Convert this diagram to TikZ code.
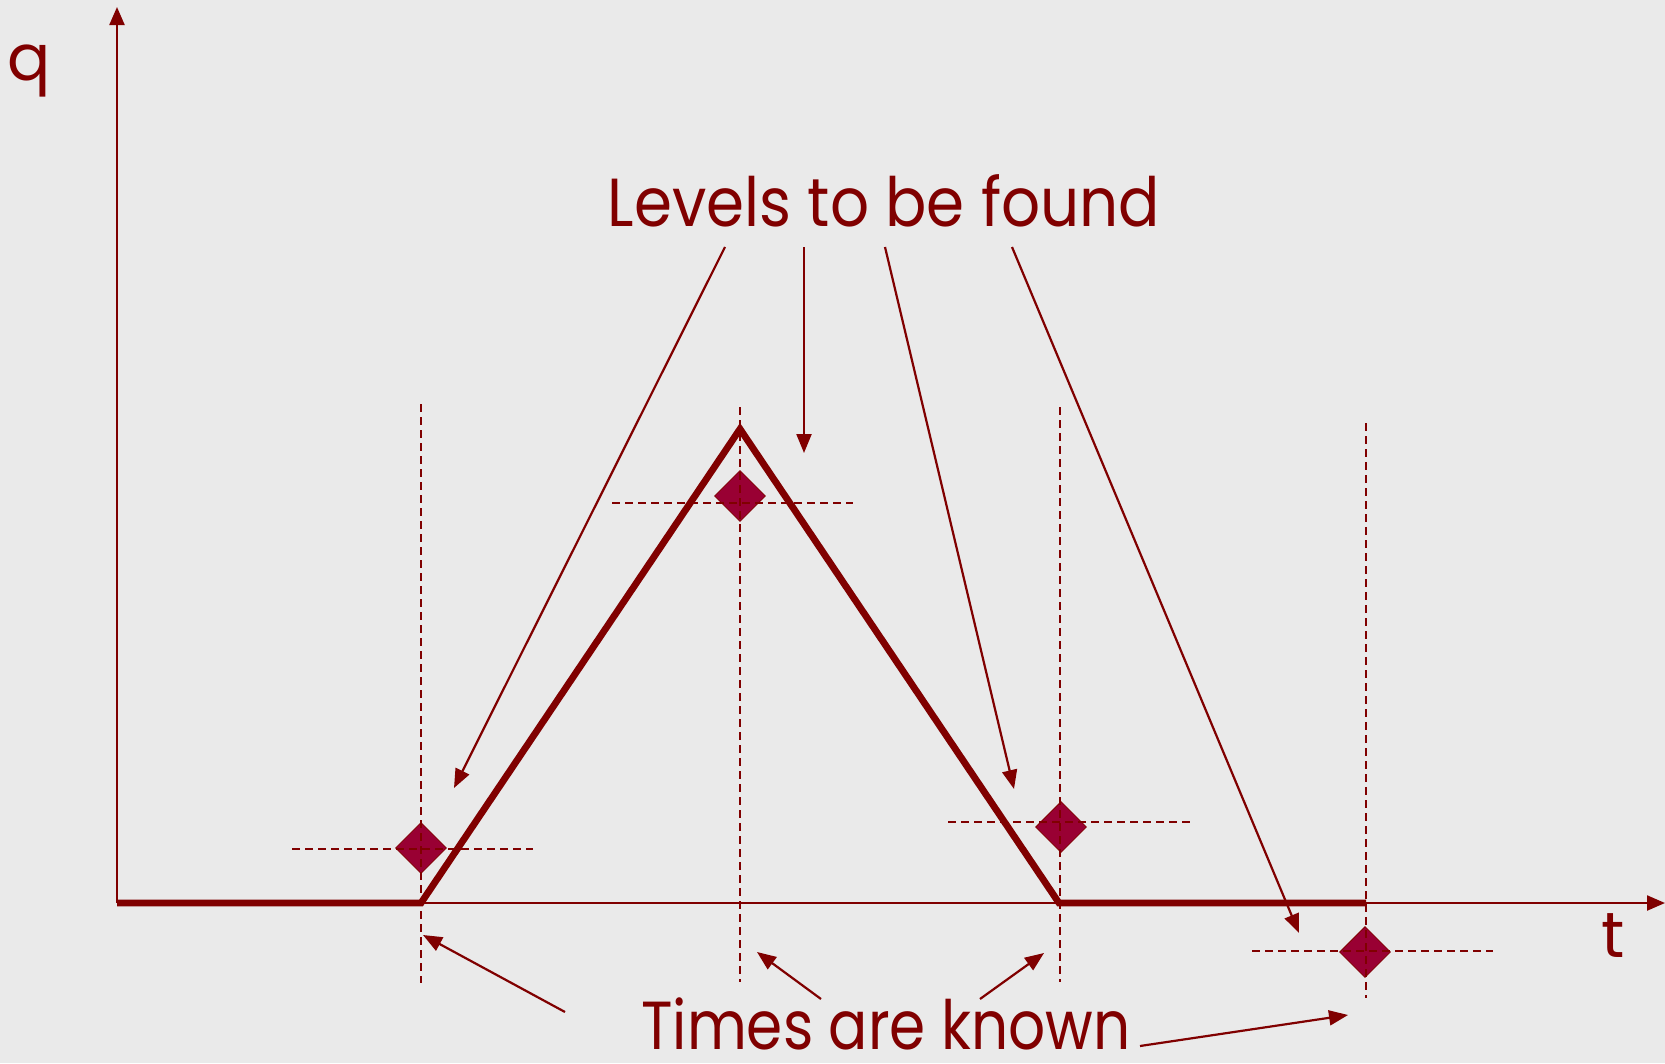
\documentclass[tikz,border=0pt]{standalone}
\usepackage{fontspec}
\setmainfont{Poppins}
\usetikzlibrary{arrows.meta,shapes.geometric}
\definecolor{dred}{HTML}{800000}
\definecolor{dfill}{HTML}{990033}
\definecolor{bgc}{HTML}{EAEAEA}
\begin{document}
\begin{tikzpicture}[x=1pt,y=-1pt,
  axis/.style={draw=dred,line width=2.2pt,-{Triangle[length=18pt,width=15pt]}},
  profile/.style={draw=dred,line width=6.8pt,line join=miter},
  guide/.style={draw=dred,line width=1.8pt,dash pattern=on 8pt off 5pt},
  pointer/.style={draw=dred,line width=2.2pt,-{Triangle[length=19pt,width=15pt]}},
  marker/.style={diamond,draw=dred,fill=dfill,line width=0.8pt,minimum width=51pt,minimum height=51pt,inner sep=0pt},
  lbl/.style={text=dred,inner sep=0pt,anchor=base}]
\fill[bgc] (0,0) rectangle (1665,1063);
\useasboundingbox (0,0) rectangle (1665,1063);

% axes
\coordinate (O) at (117,903);
\coordinate (ytip) at (117,7);
\coordinate (xtip) at (1665,903);
\draw[axis] (O) -- (ytip);
\draw[axis] (O) -- (xtip);
\node[lbl,font=\fontsize{64}{64}\selectfont] (q) at (29,80) {q};
\node[lbl,font=\fontsize{64}{64}\selectfont] (t) at (1613,957) {t};

% diamonds
\node[marker] (d1) at (421,848) {};
\node[marker] (d2) at (740,496) {};
\node[marker] (d3) at (1061,827) {};
\node[marker] (d4) at (1365,952) {};

% guides
\coordinate (v1a) at (421,404); \coordinate (v1b) at (421,983);
\coordinate (v2a) at (740,407); \coordinate (v2b) at (740,982);
\coordinate (v3a) at (1060,407); \coordinate (v3b) at (1060,982);
\coordinate (v4a) at (1366,423); \coordinate (v4b) at (1366,998);
\coordinate (h1a) at (292,849); \coordinate (h1b) at (533,849);
\coordinate (h2a) at (612,503); \coordinate (h2b) at (853,503);
\coordinate (h3a) at (948,822); \coordinate (h3b) at (1190,822);
\coordinate (h4a) at (1252,951); \coordinate (h4b) at (1493,951);
\draw[guide] (v1a) -- (v1b);
\draw[guide] (v2a) -- (v2b);
\draw[guide] (v3a) -- (v3b);
\draw[guide] (v4a) -- (v4b);
\draw[guide] (h1a) -- (h1b);
\draw[guide] (h2a) -- (h2b);
\draw[guide] (h3a) -- (h3b);
\draw[guide] (h4a) -- (h4b);

% profile
\coordinate (p1) at (421,903);
\coordinate (p2) at (740,429);
\coordinate (p3) at (1059,903);
\coordinate (p4) at (1366,903);
\draw[profile] (O) -- (p1) -- (p2) -- (p3) -- (p4);

% labels
\node[lbl,font=\fontsize{68}{68}\selectfont] (lev) at (884,226) {\scalebox{0.9}[1]{Levels to be found}};
\node[lbl,font=\fontsize{68}{68}\selectfont] (tim) at (886,1049) {\scalebox{0.855}[1]{Times are known}};

% pointers from "Levels to be found"
\coordinate (ls1) at (725,247); \coordinate (le1) at (454,788);
\coordinate (ls2) at (804,247); \coordinate (le2) at (804,453);
\coordinate (ls3) at (885,247); \coordinate (le3) at (1014,789);
\coordinate (ls4) at (1012,247); \coordinate (le4) at (1299,933);
\draw[pointer] (ls1) -- (le1);
\draw[pointer] (ls2) -- (le2);
\draw[pointer] (ls3) -- (le3);
\draw[pointer] (ls4) -- (le4);

% pointers from "Times are known"
\coordinate (ts1) at (565,1012); \coordinate (te1) at (423,935);
\coordinate (ts2) at (821,999); \coordinate (te2) at (757,952);
\coordinate (ts3) at (980,999); \coordinate (te3) at (1044,953);
\coordinate (ts4) at (1140,1046); \coordinate (te4) at (1348,1015);
\draw[pointer] (ts1) -- (te1);
\draw[pointer] (ts2) -- (te2);
\draw[pointer] (ts3) -- (te3);
\draw[pointer] (ts4) -- (te4);
\end{tikzpicture}
\end{document}
